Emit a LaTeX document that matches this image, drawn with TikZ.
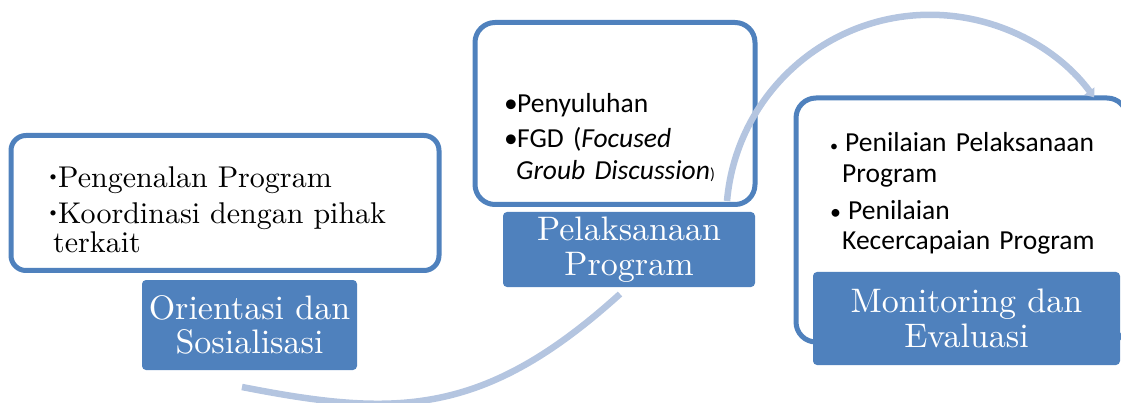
\documentclass[tikz,border=0pt]{standalone}
\usepackage{fontspec}
\setmainfont{lmroman10-regular.otf}
\newfontfamily\calibrifont{Carlito}
\usetikzlibrary{arrows.meta}

\definecolor{boxblue}{RGB}{79,129,189}
\definecolor{arcblue}{RGB}{180,197,224}

\newcommand{\dotmark}{\raisebox{6.5pt}{\fontsize{18}{18}\selectfont\textbullet}}
\newcommand{\pitem}[3]{\makebox[#2][l]{#3}\hangindent=#1\hangafter=1\relax}

\tikzset{
  outerbox/.style={draw=boxblue, line width=5pt, fill=white, inner sep=0pt},
  titlebox/.style={fill=boxblue, text=white, rounded corners=4pt, inner sep=0pt,
    align=center, font=\fontsize{34}{34.5}\selectfont},
  listtext/.style={anchor=base west, inner sep=0pt, align=left},
  listgap/.style={execute at begin node={\setlength{\parskip}{#1}}},
  flowarc/.style={draw=arcblue, line width=6.5pt}
}

\begin{document}
\begin{tikzpicture}[x=1pt,y=-1pt]
    \useasboundingbox (0,0) rectangle (1121,403);
    \clip (0,0) rectangle (1121,403);

    % white boxes
    \node[outerbox, rounded corners=15pt, minimum width=428pt, minimum height=135pt] (orientBox) at (225,203) {};
    \node[outerbox, rounded corners=20pt, minimum width=280pt, minimum height=182pt] (pelakBox) at (615,113.5) {};
    \node[outerbox, rounded corners=20pt, minimum width=331pt, minimum height=244pt] (monevBox) at (961.5,220) {};

    % titles
    \node[titlebox, minimum width=215pt, minimum height=90pt] (orientTitle) at (249.5,325) {Orientasi dan\\Sosialisasi};
    \node[titlebox, minimum width=252pt, minimum height=75pt] (pelakTitle) at (629,249.5) {Pelaksanaan\\Program};
    \node[titlebox, minimum width=307pt, minimum height=93pt] (monevTitle) at (966.5,318.5) {Monitoring dan\\Evaluasi};

    % lists
    \node[listtext, listgap=7pt, text width=385pt, font=\fontsize{30}{29}\selectfont] (orientList) at (46,188)
      {\pitem{7pt}{12pt}{\dotmark}Pengenalan Program\par
       \pitem{7pt}{12pt}{\dotmark}Koordinasi dengan pihak\newline terkait\par};
    \node[listtext, listgap=3pt, text width=240pt, font=\calibrifont\fontsize{27.5}{32}\selectfont] (pelakList) at (504,113)
      {\pitem{12pt}{13pt}{\textbullet}Penyuluhan\par
       \pitem{12pt}{13pt}{\textbullet}FGD (\textit{Focused\newline Groub Discussion}{\fontsize{16}{16}\selectfont)}\par};
    \node[listtext, listgap=6.5pt, text width=285pt, font=\calibrifont\fontsize{27.5}{30.5}\selectfont] (monevList) at (830,152)
      {\pitem{12pt}{15pt}{\fontsize{16}{16}\selectfont\textbullet}Penilaian Pelaksanaan\newline Program\par
       \pitem{12pt}{18pt}{\fontsize{22}{22}\selectfont\textbullet}Penilaian\newline Kecercapaian Program\par};

    % arcs
    \coordinate (orientArcStart) at (242,387);
    \coordinate (orientArcEnd) at (620,294);
    \draw[flowarc] (orientArcStart) .. controls (395,417) and (483,418) .. (orientArcEnd);

    \coordinate (pelakArcStart) at (727,201);
    \draw[flowarc, -{Triangle[width=12pt,length=8pt]}] (pelakArcStart) arc[start angle=-175, end angle=-36.5, radius=204];
\end{tikzpicture}
\end{document}
